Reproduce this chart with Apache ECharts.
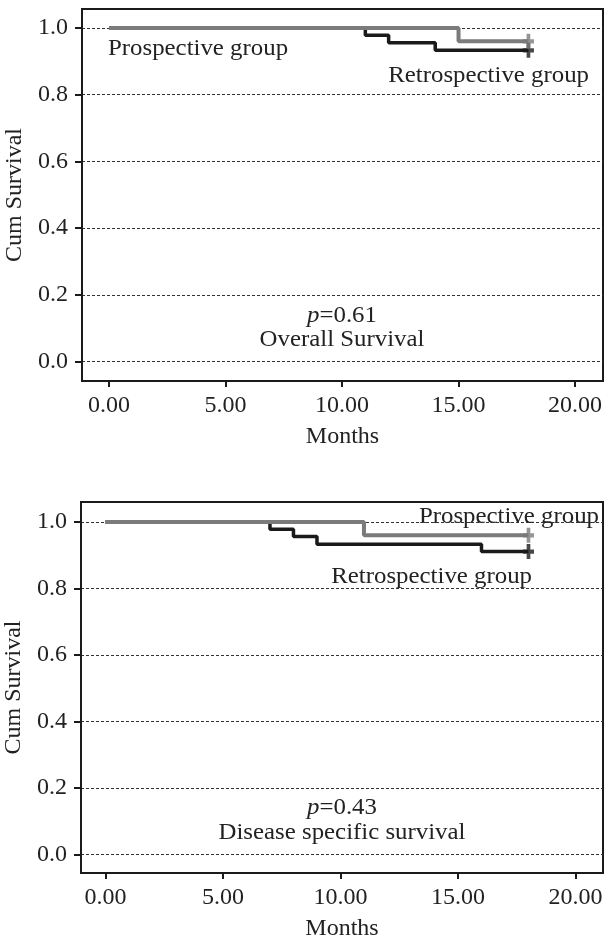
<!DOCTYPE html>
<html lang="en">
<head>
  <meta charset="UTF-8" />
  <title>km-survival</title>
  <style>
    * { margin: 0; padding: 0; }
    html, body { width: 100%; height: 100%; background: #fff; }
    #chart { width: 607px; height: 943px; }
  </style>
</head>
<body>
  <div id="chart"></div>
  <script src="https://cdn.jsdelivr.net/npm/echarts@6/dist/echarts.min.js"></script>
  <script>
    // x ticks / y ticks
    var monthTicks = [0, 5, 10, 15, 20];
    var survTicks = [0, 0.2, 0.4, 0.6, 0.8, 1.0];

    // Overall survival
    var osRetroMonths = [0, 11, 12, 14, 18];
    var osRetroSurv = [1, 0.978, 0.956, 0.933, 0.933];
    var osProMonths = [0, 15, 18];
    var osProSurv = [1, 0.96, 0.96];

    // Disease specific survival
    var dssRetroMonths = [0, 7, 8, 9, 16, 18];
    var dssRetroSurv = [1, 0.978, 0.956, 0.933, 0.911, 0.911];
    var dssProMonths = [0, 11, 18];
    var dssProSurv = [1, 0.96, 0.96];

    var gray = '#7b7b7b', dark = '#1a1a1a';
    var font = '"Liberation Serif", "Times New Roman", serif';
    var plus = 'path://M4,0H8V5H12V9H8V14H4V9H0V5H4Z';

    function zip(xs, ys) {
      return xs.map(function (x, i) { return [x, ys[i]]; });
    }
    function last(xs, ys) {
      return [[xs[xs.length - 1], ys[ys.length - 1]]];
    }

    function xAxis(idx, min, max) {
      return {
        type: 'value', gridIndex: idx, min: min, max: max,
        name: 'Months', nameLocation: 'middle', nameGap: 44,
        nameTextStyle: { fontFamily: font, fontSize: 24, color: '#222' },
        axisLine: { show: true, onZero: false, lineStyle: { color: dark, width: 2 } },
        axisTick: { show: true, length: 6, lineStyle: { color: dark, width: 2 }, customValues: monthTicks },
        axisLabel: { customValues: monthTicks, margin: 13, fontFamily: font, fontSize: 24, color: '#222',
          formatter: function (v) { return v.toFixed(2); } },
        splitLine: { show: false }
      };
    }
    function yAxis(idx, min, max) {
      return {
        type: 'value', gridIndex: idx, min: min, max: max,
        name: 'Cum Survival', nameLocation: 'middle', nameGap: 49,
        nameTextStyle: { fontFamily: font, fontSize: 24, color: '#222' },
        axisLine: { show: true, onZero: false, lineStyle: { color: dark, width: 2 } },
        axisTick: { show: true, length: 7, lineStyle: { color: dark, width: 2 }, customValues: survTicks },
        axisLabel: { customValues: survTicks, margin: 14, fontFamily: font, fontSize: 24, color: '#222',
          formatter: function (v) { return v.toFixed(1); } },
        splitLine: { show: true, lineStyle: { color: '#333', width: 1, type: [3, 2] } }
      };
    }
    function steps(idx, data, color, w) {
      return {
        type: 'line', xAxisIndex: idx, yAxisIndex: idx, step: 'end',
        data: data, showSymbol: false, symbol: 'none', silent: true,
        lineStyle: { color: color, width: w }
      };
    }
    function censor(idx, data, color) {
      return {
        type: 'scatter', xAxisIndex: idx, yAxisIndex: idx, data: data,
        symbol: plus, symbolSize: [11, 15], itemStyle: { color: color }, silent: true, z: 4
      };
    }
    function txt(x, y, text, align) {
      return {
        type: 'text', x: x, y: y, scaleX: 1.035,
        style: { text: text, fontFamily: font, fontSize: 24, fill: '#222', align: align || 'left', verticalAlign: 'middle' }
      };
    }
    function ptxt(x, y, val) {
      return {
        type: 'text', x: x, y: y, scaleX: 1.035,
        style: {
          text: '{i|p}=' + val, align: 'center', verticalAlign: 'middle', fill: '#222',
          fontFamily: font, fontSize: 24,
          rich: { i: { fontStyle: 'italic', fontFamily: font, fontSize: 24, fill: '#222' } }
        }
      };
    }

    var chart = echarts.init(document.getElementById('chart'), null, { renderer: 'canvas' });
    chart.setOption({
      animation: false,
      backgroundColor: '#fff',
      grid: [
        { left: 82, top: 9, right: 4, height: 372, show: true, borderColor: dark, borderWidth: 2,
          backgroundColor: 'transparent', containLabel: false, outerBoundsMode: 'none' },
        { left: 81, top: 502, right: 4, height: 371, show: true, borderColor: dark, borderWidth: 2,
          backgroundColor: 'transparent', containLabel: false, outerBoundsMode: 'none' }
      ],
      xAxis: [xAxis(0, -1.16, 21.2), xAxis(1, -1.04, 21.17)],
      yAxis: [yAxis(0, -0.058, 1.057), yAxis(1, -0.055, 1.06)],
      series: [
        steps(0, zip(osRetroMonths, osRetroSurv), dark, 3.5),
        steps(0, zip(osProMonths, osProSurv), gray, 4),
        censor(0, last(osRetroMonths, osRetroSurv), dark),
        censor(0, last(osProMonths, osProSurv), gray),
        steps(1, zip(dssRetroMonths, dssRetroSurv), dark, 3.5),
        steps(1, zip(dssProMonths, dssProSurv), gray, 4),
        censor(1, last(dssRetroMonths, dssRetroSurv), dark),
        censor(1, last(dssProMonths, dssProSurv), gray)
      ],
      graphic: [
        txt(108, 49, 'Prospective group'),
        txt(589, 76, 'Retrospective group', 'right'),
        ptxt(342, 316, '0.61'),
        txt(342, 340, 'Overall Survival', 'center'),
        txt(599, 517, 'Prospective group', 'right'),
        txt(532, 577, 'Retrospective group', 'right'),
        ptxt(342, 808, '0.43'),
        txt(342, 833, 'Disease specific survival', 'center')
      ]
    });
  </script>
</body>
</html>
